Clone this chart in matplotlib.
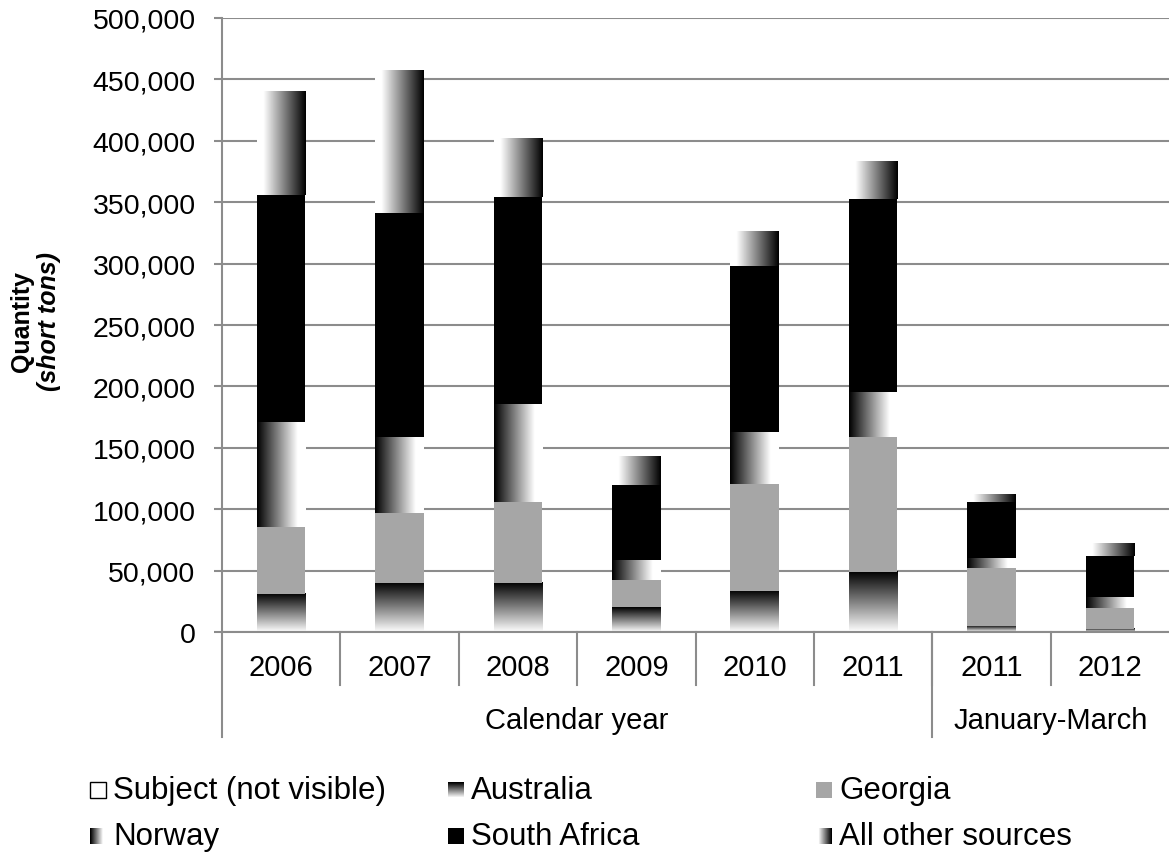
import numpy as np
import matplotlib
matplotlib.use("Agg")
from matplotlib import pyplot as plt
from matplotlib.patches import Rectangle

plt.rcParams["font.family"] = ["Liberation Sans", "DejaVu Sans"]

years = ["2006", "2007", "2008", "2009", "2010", "2011", "2011", "2012"]
groups = ["Calendar year", "January-March"]
group_sizes = [6, 2]

subject = [0, 0, 0, 0, 0, 0, 0, 0]
australia = [31000, 40000, 40000, 20000, 33500, 49000, 5000, 2500]
georgia = [54500, 57000, 66000, 22000, 87000, 110000, 47000, 17000]
norway = [85500, 62000, 80000, 17000, 42500, 36500, 8000, 9000]
south_africa = [185000, 182000, 168000, 61000, 135000, 157500, 46000, 33500]
all_other = [84500, 116000, 48000, 23000, 28500, 30500, 6000, 10500]

series = [
    ("Subject (not visible)", subject, "white"),
    ("Australia", australia, "vgrad"),
    ("Georgia", georgia, "#a6a6a6"),
    ("Norway", norway, "hgrad_dark_left"),
    ("South Africa", south_africa, "black"),
    ("All other sources", all_other, "hgrad_dark_right"),
]


def gradient(kind, n=256):
    if kind == "vgrad":
        # black on top, white at the bottom (origin='lower')
        return np.linspace(1, 0, n).reshape(-1, 1)
    if kind == "hgrad_dark_left":
        return np.clip(np.linspace(0, 1.2, n), 0, 1).reshape(1, -1)
    return np.clip(np.linspace(1.15, 0, n), 0, 1).reshape(1, -1)


fig = plt.figure(figsize=(11.69, 8.62), dpi=100)
ax = fig.add_axes([222 / 1169, 1 - 633 / 862, 1 - 222 / 1169, (633 - 19) / 862])

x = np.arange(len(years))
width = 0.41
bottom = np.zeros(len(years))
for name, vals, style in series:
    vals = np.array(vals, dtype=float)
    if style.startswith(("vgrad", "hgrad")):
        bars = ax.bar(x, vals, width, bottom=bottom, color="none", zorder=2)
        for r in bars:
            x0, y0 = r.get_x(), r.get_y()
            w, h = r.get_width(), r.get_height()
            if h <= 0:
                continue
            ax.imshow(gradient(style), cmap="gray", vmin=0, vmax=1,
                      extent=[x0, x0 + w, y0, y0 + h], origin="lower",
                      aspect="auto", interpolation="bilinear", zorder=2)
    else:
        ax.bar(x, vals, width, bottom=bottom, color=style, zorder=2)
    bottom += vals

ax.set_xlim(-0.5, len(years) - 0.5)
ax.set_ylim(0, 500000)
ax.set_aspect("auto")
ax.set_yticks(np.arange(0, 500001, 50000))
ax.set_yticklabels([f"{v:,}" for v in range(0, 500001, 50000)])
ax.yaxis.grid(True, color="#8c8c8c", linewidth=1.5)
ax.set_axisbelow(True)
ax.tick_params(axis="y", labelsize=20.5, color="#8c8c8c", length=6, width=1.5, pad=13)
ax.set_xticks([])
for side in ["top", "right"]:
    ax.spines[side].set_visible(False)
for side in ["left", "bottom"]:
    ax.spines[side].set_color("#8c8c8c")
    ax.spines[side].set_linewidth(1.5)

# category axis: year labels, group labels and separators
tr = ax.get_xaxis_transform()
for i, y in enumerate(years):
    ax.text(i, -0.057, y, transform=tr, ha="center", va="center", fontsize=21)
for b in np.arange(0.5, len(years) - 0.5):
    ax.plot([b, b], [0, -0.0863], transform=tr, color="#8c8c8c", lw=1.5, clip_on=False)
start = 0
for g, n in zip(groups, group_sizes):
    ax.plot([start - 0.5, start - 0.5], [0, -0.171], transform=tr,
            color="#8c8c8c", lw=1.5, clip_on=False)
    ax.text(start + (n - 1) / 2, -0.143, g, transform=tr,
            ha="center", va="center", fontsize=21)
    start += n

fig.text(22 / 1169, 1 - 322 / 862, "Quantity", rotation=90, ha="center", va="center",
         fontsize=18, fontweight="bold")
fig.text(49 / 1169, 1 - 322 / 862, "(short tons)", rotation=90, ha="center", va="center",
         fontsize=18, fontweight="bold", fontstyle="italic")

# legend, drawn in pixel positions
W, H = 1169, 862
cols = [90, 448, 816]
rows = [791, 837]
size = 16


def legend_marker(px, py, style):
    if style.startswith(("vgrad", "hgrad")):
        g = gradient(style, 16)
        n = 16
        for k in range(n):
            if style == "vgrad":
                shade = g[n - 1 - k, 0]
                rect = Rectangle(((px) / W, 1 - (py - size / 2 + (k + 1) * size / n) / H),
                                 size / W, size / n / H, transform=fig.transFigure,
                                 facecolor=str(shade), edgecolor="none")
            else:
                shade = g[0, k]
                rect = Rectangle(((px + k * size / n) / W, 1 - (py + size / 2) / H),
                                 size / n / W, size / H, transform=fig.transFigure,
                                 facecolor=str(shade), edgecolor="none")
            fig.add_artist(rect)
    else:
        edge = "black" if style == "white" else "none"
        fig.add_artist(Rectangle((px / W, 1 - (py + size / 2) / H), size / W, size / H,
                                 transform=fig.transFigure, facecolor=style,
                                 edgecolor=edge, linewidth=1))


for idx, (name, vals, style) in enumerate(series):
    r, c = divmod(idx, 3)
    px, py = cols[c], rows[r]
    legend_marker(px, py, style)
    fig.text((px + size + 7) / W, 1 - py / H, name, ha="left", va="center", fontsize=22.5)

fig.savefig("out.png", dpi=100)
